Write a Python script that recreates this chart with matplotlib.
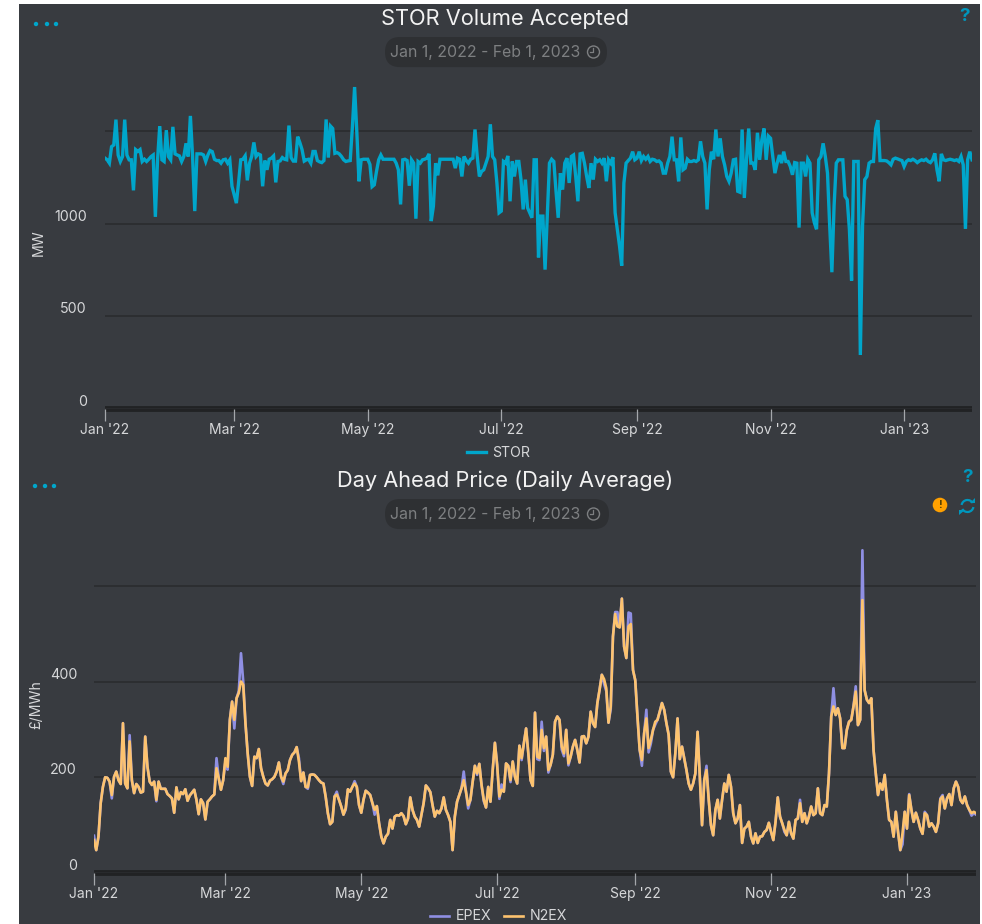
import pandas as pd
import matplotlib
matplotlib.use("Agg")
import matplotlib.pyplot as plt
import matplotlib.dates as mdates
from matplotlib.patches import Rectangle, Circle, FancyBboxPatch, Arc, Polygon

plt.rcParams['font.family'] = ['Inter', 'DejaVu Sans']

# daily values, Jan 1 2022 onwards
stor = [
    1354,1345,1327,1416,1425,1562,1371,1336,1362,1562,
    1371,1345,1345,1180,1400,1390,1400,1336,1348,1336,
    1348,1362,1371,1037,1345,1527,1345,1336,1505,1362,
    1345,1523,1377,1371,1366,1336,1363,1434,1363,1582,
    1363,1068,1377,1377,1377,1371,1336,1371,1395,1389,
    1348,1341,1341,1327,1345,1348,1327,1345,1202,1157,
    1111,1220,1345,1348,1366,1234,1327,1363,1439,1363,
    1377,1371,1202,1341,1291,1348,1354,1366,1223,1336,
    1339,1357,1348,1345,1530,1357,1338,1338,1470,1438,
    1400,1338,1345,1348,1327,1390,1390,1341,1334,1330,
    1341,1563,1357,1527,1514,1380,1384,1377,1363,1345,
    1336,1339,1341,1523,1738,1500,1229,1345,1348,1348,
    1348,1320,1200,1210,1282,1345,1371,1348,1348,1348,
    1348,1348,1348,1327,1291,1104,1345,1348,1341,1205,
    1345,1327,1027,1336,1327,1345,1348,1354,1377,1014,
    1095,1327,1261,1348,1348,1348,1348,1348,1348,1348,
    1300,1354,1348,1255,1363,1341,1327,1348,1354,1509,
    1363,1255,1282,1291,1327,1363,1537,1363,1345,1220,
    1059,1068,1336,1327,1366,1121,1336,1255,1336,1336,
    1238,1077,1238,1086,1059,1032,1345,1345,818,1041,
    1041,752,1041,1327,1348,1336,1175,1032,1273,1184,
    1327,1354,1220,1363,1371,1255,1121,1377,1380,1327,
    1255,1193,1327,1238,1348,1336,1345,1327,1354,1229,
    1345,1327,1359,1059,970,880,773,1220,1327,1341,
    1354,1389,1345,1354,1389,1341,1363,1348,1363,1336,
    1348,1345,1336,1339,1327,1273,1273,1327,1363,1470,
    1345,1345,1229,1466,1291,1300,1348,1336,1336,1341,
    1336,1345,1445,1363,1327,1077,1291,1389,1348,1509,
    1363,1461,1363,1318,1255,1229,1273,1345,1348,1175,
    1170,1509,1139,1345,1514,1327,1327,1291,1491,1345,
    1452,1514,1345,1473,1461,1363,1273,1327,1371,1327,
    1389,1336,1336,1309,1264,1330,1327,979,1327,1327,
    1255,1348,1327,1059,1005,970,1345,1363,1434,1363,
    1273,988,738,1095,1327,1345,1345,1345,1148,1130,
    970,693,1336,1336,1336,291,988,1238,1255,1327,
    1336,1336,1514,1559,1341,1341,1341,1339,1330,1318,
    1348,1354,1350,1345,1341,1309,1336,1345,1341,1348,
    1341,1330,1339,1345,1341,1348,1336,1330,1345,1380,
    1291,1229,1377,1345,1341,1345,1348,1345,1341,1345,
    1336,1363,1318,972,1345,1389,1345]

n2ex = [
    69,48,76,146,180,200,199,191,163,201,
    212,194,186,313,187,177,275,194,167,186,
    180,168,170,285,222,191,184,191,153,191,
    176,176,176,165,161,156,126,179,154,169,
    165,175,151,162,168,174,153,123,154,146,
    112,149,154,160,164,219,198,174,194,240,
    222,320,358,320,365,376,400,393,313,250,
    201,182,243,240,259,219,201,187,183,193,
    196,201,212,231,201,191,208,215,236,247,
    252,263,233,192,210,180,179,205,206,205,
    200,194,189,187,160,125,102,107,160,164,
    153,139,122,135,175,170,180,187,180,142,
    126,153,172,168,163,146,132,140,104,76,
    62,76,82,111,93,118,121,120,125,119,
    102,114,158,132,118,111,97,121,146,183,
    177,169,142,118,130,125,135,158,132,121,
    107,48,118,149,163,177,194,170,142,153,
    190,224,208,228,184,153,137,180,149,215,
    272,226,160,174,170,229,224,194,233,201,
    187,266,240,271,302,250,194,182,335,243,
    240,299,261,285,215,226,247,316,327,320,
    264,250,299,229,243,264,278,257,231,285,
    286,271,285,337,313,305,355,383,414,405,
    386,314,348,494,541,515,513,573,473,449,
    515,520,424,403,327,257,236,292,323,261,
    278,299,316,320,337,355,341,313,289,212,
    200,250,323,238,264,240,215,187,174,187,
    208,295,201,100,194,215,153,100,79,132,
    153,114,153,187,170,205,180,125,104,114,
    142,63,93,97,107,76,62,83,63,76,
    77,86,90,105,86,69,107,158,118,104,
    90,79,107,83,72,111,114,146,107,125,
    104,118,139,121,125,177,125,121,142,139,
    208,327,348,330,344,323,261,261,299,316,
    320,348,379,309,320,570,382,362,355,365,
    257,208,163,187,174,205,153,111,107,76,
    128,86,48,83,128,93,163,132,107,126,
    111,93,82,125,121,97,104,97,86,104,
    154,160,135,156,165,142,177,191,180,153,
    146,160,142,132,125,128,125]

epex = [
    78,48,76,146,180,200,199,191,156,201,
    212,194,186,313,187,177,288,194,167,186,
    180,168,170,285,222,191,184,191,150,191,
    176,176,176,165,161,156,126,179,154,169,
    165,175,151,162,168,174,153,123,154,146,
    112,149,154,160,164,240,198,174,194,232,
    216,320,358,302,365,380,459,400,313,250,
    201,182,243,240,259,219,201,187,183,193,
    196,201,212,231,201,186,208,215,236,247,
    252,263,240,192,210,180,176,205,206,205,
    200,194,189,187,160,125,102,107,160,170,
    153,139,122,132,175,170,180,192,180,142,
    126,153,172,168,163,146,122,140,104,76,
    62,76,82,111,93,118,121,120,125,119,
    102,114,158,132,118,111,97,121,146,183,
    177,169,142,118,130,125,135,158,132,121,
    107,48,118,149,163,177,212,170,135,153,
    190,224,205,228,184,150,137,180,149,215,
    272,226,155,185,170,229,224,190,233,201,
    187,266,236,271,302,250,194,182,335,238,
    236,316,255,285,210,226,247,316,327,320,
    258,244,299,225,243,264,278,257,231,285,
    286,271,285,337,313,305,355,383,414,395,
    380,314,342,494,545,545,513,573,473,449,
    544,542,424,403,327,257,224,292,341,252,
    270,299,310,320,337,355,341,313,289,212,
    200,250,323,238,264,240,215,187,174,187,
    208,295,201,100,194,224,153,100,79,132,
    153,114,153,187,170,205,180,125,104,114,
    142,63,93,97,107,76,62,83,63,76,
    77,86,90,105,86,69,107,158,118,104,
    86,79,107,83,72,111,114,153,107,125,
    104,118,139,121,125,177,125,121,142,139,
    208,327,386,330,344,323,261,261,299,316,
    320,348,390,309,320,674,382,362,355,365,
    257,208,163,187,174,205,153,111,107,76,
    128,86,48,60,128,93,165,132,107,126,
    111,93,82,128,121,97,104,97,86,104,
    156,163,135,156,165,142,177,191,180,153,
    146,160,142,132,120,125,122]

stor_ticks = [0, 500, 1000, 1500]
stor_labels = ['0', '500', '1000']
price_ticks = [0, 200, 400, 600]
price_labels = ['0', '200', '400']

dates = pd.date_range('2022-01-01', periods=len(stor), freq='D')
x_end = pd.Timestamp('2023-02-01')

W, H = 982, 924
PANEL = '#383b40'
GRID = '#2a2c2f'
BAND = '#212224'
TEAL = '#00a6cb'
LABEL = '#d6d7d9'
MUTED = '#7d7f81'
PILL = '#2e3033'

fig = plt.figure(figsize=(W / 100, H / 100), dpi=100, facecolor='white')

# full figure layer in pixel coordinates for the panel and the little widgets
bg = fig.add_axes([0, 0, 1, 1], zorder=0)
bg.set_xlim(0, W)
bg.set_ylim(H, 0)
bg.axis('off')
bg.add_patch(Rectangle((19, 4), 961, 920, color=PANEL, lw=0))


def header(title, title_y, pill_y, pill_w, dots, dots_y, q_x, q_y):
    bg.text(505, title_y, title, color='#f2f2f2', fontsize=15.7, ha='center', va='center')
    bg.add_patch(FancyBboxPatch((385 + 15, pill_y + 15), pill_w - 30, 0.1,
                                boxstyle='round,pad=15', color=PILL, lw=0))
    bg.text(485.5, pill_y + 15.5, 'Jan 1, 2022 - Feb 1, 2023', color=MUTED, fontsize=11.4, ha='center', va='center')
    cx, cy = 593.5, pill_y + 15
    bg.add_patch(Circle((cx, cy), 6, fill=False, ec=MUTED, lw=1))
    bg.plot([cx, cx, cx - 3], [cy - 4, cy, cy], color=MUTED, lw=0.9)
    for d in dots:
        bg.add_patch(Circle((d, dots_y), 2.2, color=TEAL, lw=0))
    bg.text(q_x, q_y, '?', color='#0097bd', fontsize=13.5, fontweight='bold', ha='center', va='center')


header('STOR Volume Accepted', 19, 37, 222, [36, 47, 56], 24, 965, 16.5)
header('Day Ahead Price (Daily Average)', 481, 499, 224, [35, 45, 54], 486, 968, 478)

# warning and refresh icons on the second panel
bg.add_patch(Circle((940, 505), 7.3, color='#ffa000', lw=0))
bg.text(940, 505, '!', color='#5a4200', fontsize=8, fontweight='bold', ha='center', va='center')
bg.add_patch(Arc((967.5, 506), 12, 12, theta1=190, theta2=330, ec='#0097bd', lw=1.6))
bg.add_patch(Arc((967.5, 506), 12, 12, theta1=10, theta2=150, ec='#0097bd', lw=1.6))
bg.add_patch(Polygon([[970, 502.5], [975.5, 502.5], [975.5, 497.5]], color='#0097bd', lw=0))
bg.add_patch(Polygon([[965, 509.5], [959.5, 509.5], [959.5, 514.5]], color='#0097bd', lw=0))

bg.text(38.5, 243, 'MW', color=LABEL, fontsize=10.2, rotation=90, ha='center', va='center')
bg.text(36, 705, '£/MWh', color=LABEL, fontsize=10.2, rotation=90, ha='center', va='center')


def make_axes(left, right, top, bottom, ymax):
    ax = fig.add_axes([left / W, 1 - bottom / H, (right - left) / W, (bottom - top) / H], zorder=1)
    ax.patch.set_visible(False)
    ax.set_xlim(dates[0], x_end)
    ax.set_ylim(0, ymax)
    for side in ['top', 'left', 'right']:
        ax.spines[side].set_visible(False)
    ax.spines['bottom'].set_color(BAND)
    ax.spines['bottom'].set_linewidth(4.2)
    ax.spines['bottom'].set_capstyle('butt')
    ax.spines['bottom'].set_zorder(0.4)
    ax.set_axisbelow(True)
    ax.xaxis.set_major_locator(mdates.MonthLocator(bymonth=[1, 3, 5, 7, 9, 11]))
    ax.xaxis.set_major_formatter(mdates.DateFormatter("%b '%y"))
    ax.tick_params(axis='x', length=8.8, width=0.9, color='#a4a7ab', labelcolor=LABEL, labelsize=10, pad=1.3)
    ax.tick_params(axis='y', length=0, labelleft=False)
    ax.grid(axis='y', color=GRID, lw=1.2)
    return ax


def y_labels(ax, ticks, labels, dx):
    for v, s in zip(ticks, labels):
        ax.annotate(s, xy=(0, v), xycoords=ax.get_yaxis_transform(), xytext=(dx, 5), textcoords='offset points',
                    color=LABEL, fontsize=10.3, ha='right', va='center')


# STOR panel
ax1 = make_axes(105, 972, 70, 408.9, (408.9 - 70) / 92.6 * 500)
ax1.plot(dates, stor, color=TEAL, lw=2.4, solid_joinstyle='miter', label='STOR')
ax1.set_yticks(stor_ticks)
y_labels(ax1, stor_ticks, stor_labels, -13)
ax1.legend(loc='center', bbox_to_anchor=(498.5 / W, 1 - 452.5 / H), bbox_transform=fig.transFigure, frameon=False,
           fontsize=10.2, labelcolor=LABEL, handlelength=1.35, handletextpad=0.45, borderpad=0)

# price panel
ax2 = make_axes(94, 976, 540, 873.1, (873.1 - 540) / 95.8 * 200)
ax2.plot(dates, epex, color='#8f8fe3', lw=1.9, label='EPEX')
ax2.plot(dates, n2ex, color='#fdc36f', lw=1.9, label='N2EX')
ax2.set_yticks(price_ticks)
y_labels(ax2, price_ticks, price_labels, -12.2)
ax2.legend(loc='center', bbox_to_anchor=(498.5 / W, 1 - 916.5 / H), bbox_transform=fig.transFigure, frameon=False,
           fontsize=10.2, labelcolor=LABEL, ncol=2, handlelength=1.35, handletextpad=0.45, columnspacing=0.9, borderpad=0)

fig.savefig('out.png', dpi=100, facecolor='white')
